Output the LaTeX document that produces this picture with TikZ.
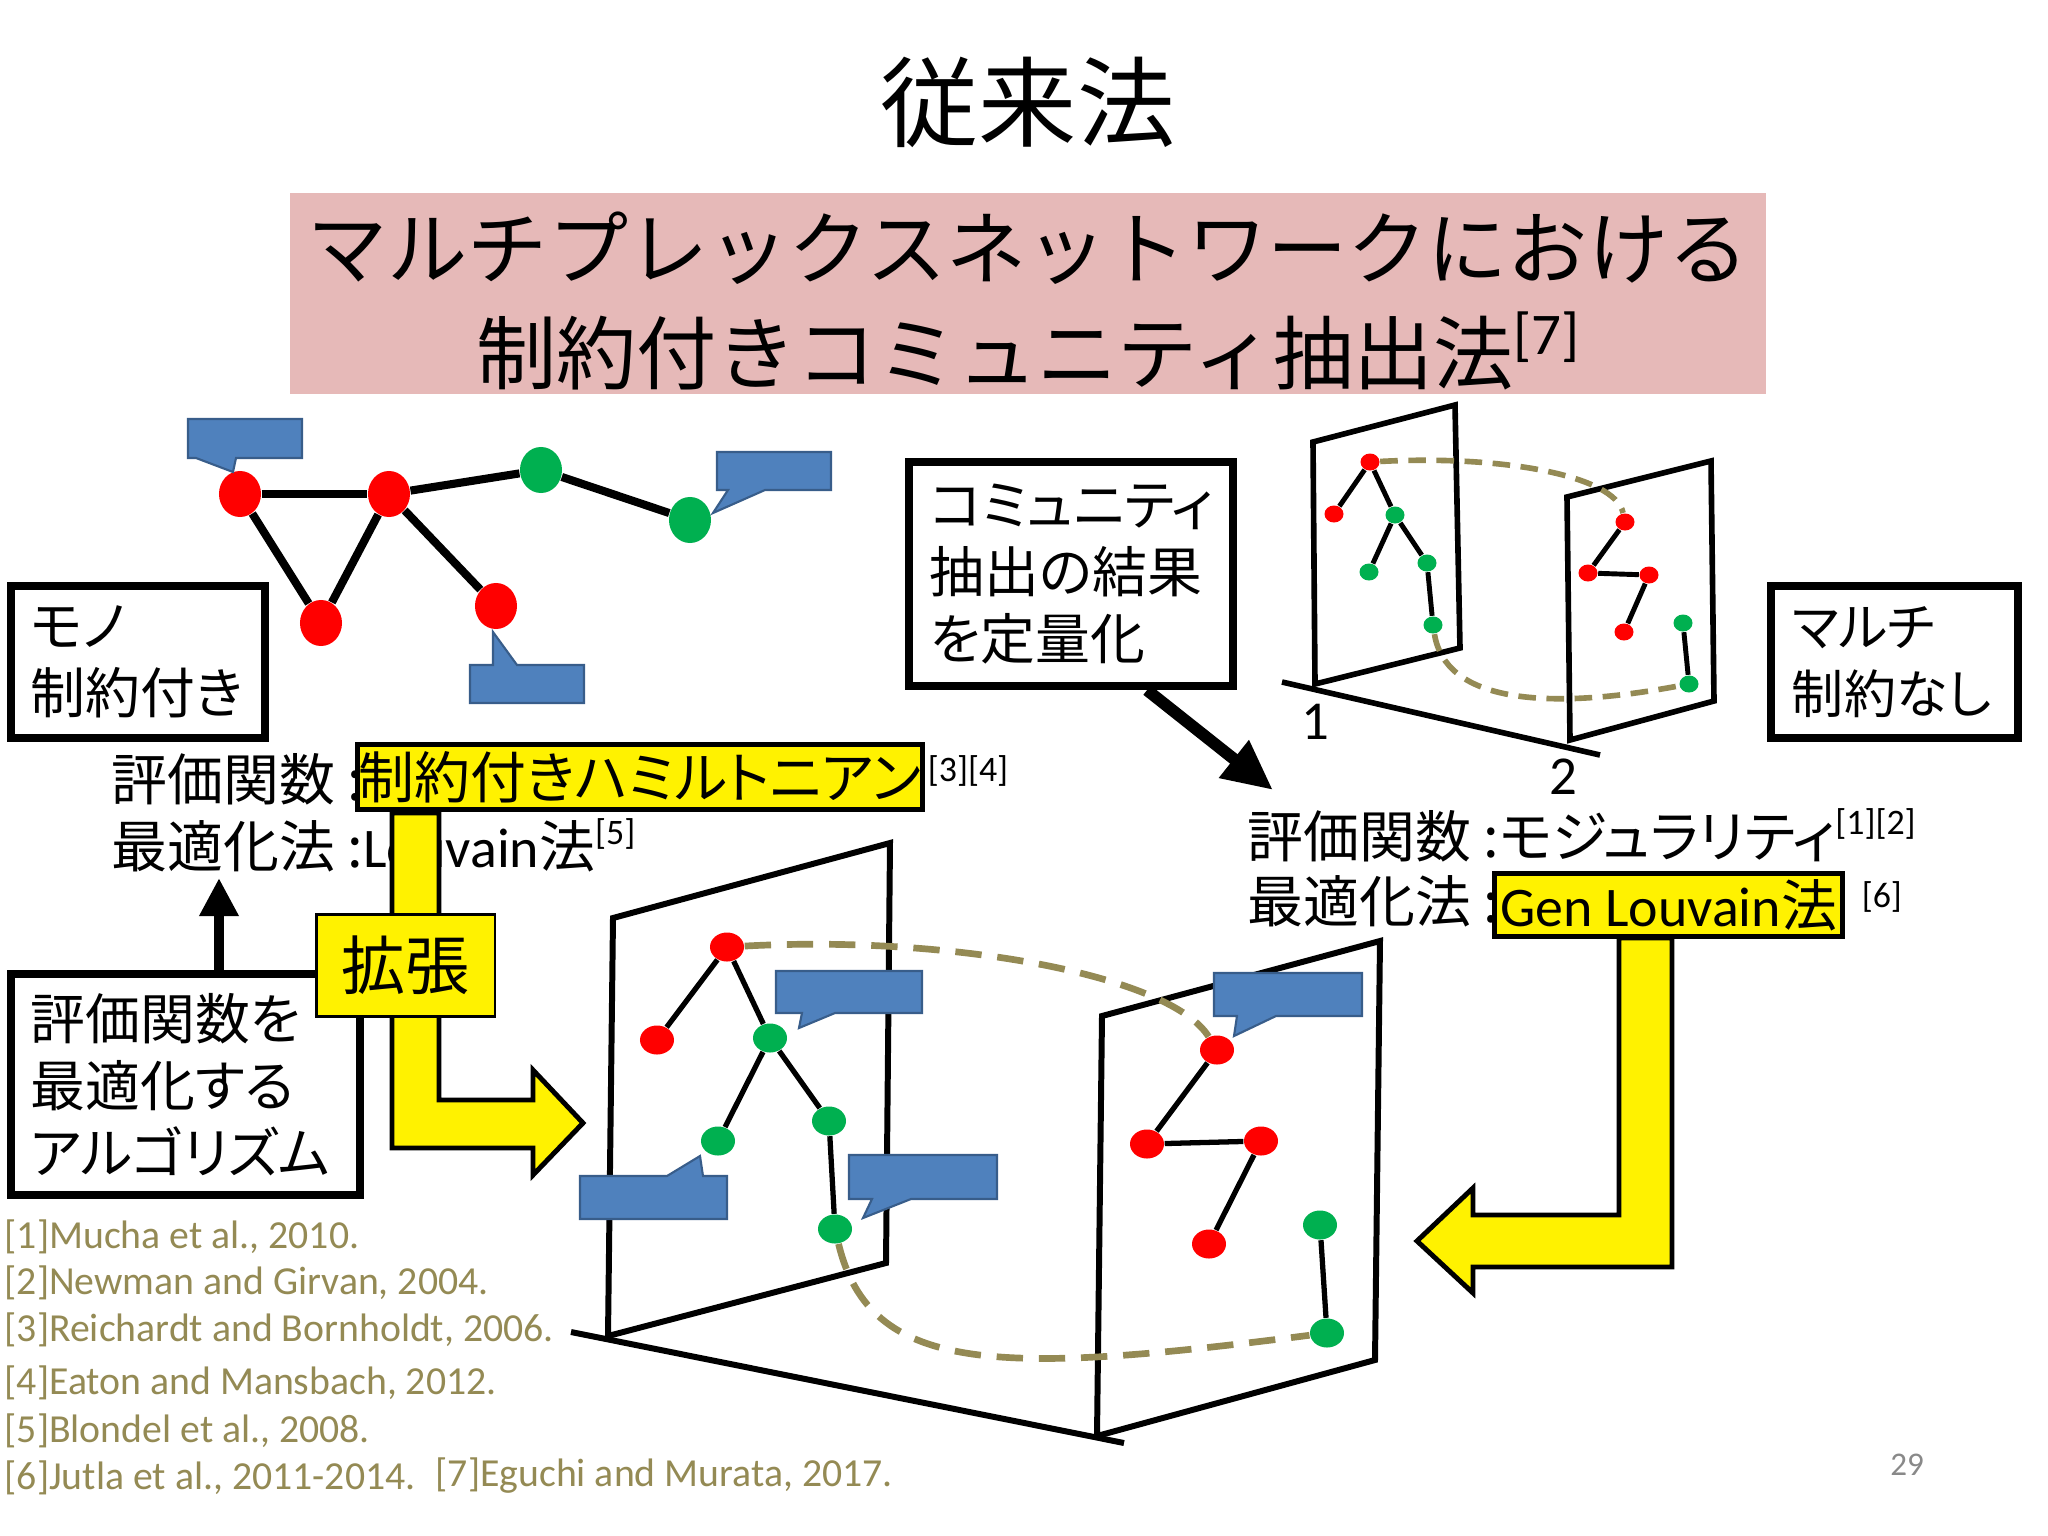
\documentclass[tikz,border=0pt]{standalone}
\usepackage{fontspec}
\setmainfont{Carlito}
\newfontfamily\jp{Noto Sans CJK JP}
\newfontfamily\jpp[RawFeature=+palt]{Noto Sans CJK JP}
\usetikzlibrary{arrows.meta,positioning,shapes.geometric}

\definecolor{bandpink}{RGB}{230,185,184}
\definecolor{bubblefill}{RGB}{79,129,189}
\definecolor{bubbleedge}{RGB}{56,93,138}
\definecolor{tanline}{RGB}{148,138,84}
\definecolor{vgreen}{RGB}{0,176,80}
\definecolor{pagegray}{RGB}{137,137,137}

\newcommand{\refmark}[3]{\raisebox{#2}{\fontsize{#1}{#1}\selectfont\rmfamily\mdseries #3}}

\begin{document}
\begin{tikzpicture}[x=0.01cm,y=-0.01cm,
  box/.style={draw,line width=2.3pt,inner sep=0pt,align=left,
    font=\jpp\fontsize{15.6pt}{19pt}\selectfont},
  hilite/.style={draw,fill=yellow,inner sep=0pt},
  evaltext/.style={inner sep=0pt,font=\jp\fontsize{15.9pt}{19pt}\selectfont},
  refline/.style={inner sep=0pt,anchor=west,text=tanline,font=\fontsize{11.3pt}{13pt}\selectfont},
  plane/.style={line width=1.7pt,line join=miter},
  bubble/.style={fill=bubblefill,draw=bubbleedge,line width=0.6pt,line join=miter},
  tandash/.style={draw=tanline,line width=1.9pt,dash pattern=on 7.5pt off 4.5pt},
  vtx/.style={ellipse,inner sep=0pt},
  rv/.style={vtx,fill=red},
  gv/.style={vtx,fill=vgreen},
  monosz/.style={minimum width=0.42cm,minimum height=0.46cm},
  bigsz/.style={minimum width=0.34cm,minimum height=0.29cm},
  smallsz/.style={minimum width=0.19cm,minimum height=0.17cm},
  yarrow/.style={fill=yellow,draw=black,line width=1.4pt,line join=miter}]
\useasboundingbox (0,0) rectangle (2048,1536);
\fill[white] (0,0) rectangle (2048,1536);

% Title and band
\node[inner sep=0pt,anchor=base,font=\jp\fontsize{27.9pt}{30pt}\selectfont] (title) at (1028,139) {従来法};
\node[fill=bandpink,minimum width=14.76cm,minimum height=2.01cm] (band) at (1028,293.5) {};
\node[inner sep=0pt,anchor=base,font=\jp\fontsize{22.8pt}{26pt}\selectfont] (bandone) at (1028,278) {マルチプレックスネットワークにおける};
\node[inner sep=0pt,anchor=base,font=\jp\fontsize{22.8pt}{26pt}\selectfont] (bandtwo) at (1028,383) {制約付きコミュニティ抽出法\refmark{16.8pt}{8pt}{[7]}};

% Mono network
\node[rv,monosz] (ma) at (240,494) {};
\node[rv,monosz] (mb) at (389,494) {};
\node[gv,monosz] (mc) at (541,470) {};
\node[gv,monosz] (md) at (690,520) {};
\node[rv,monosz] (me) at (321,623) {};
\node[rv,monosz] (mf) at (496,606) {};
\foreach \a/\b in {ma/mb,ma/me,me/mb,mb/mc,mc/md,mb/mf}
  \draw[line width=2.3pt] (\a) -- (\b);
\draw[bubble] (188,419) -- (302,419) -- (302,458) -- (236,458) -- (233,472) -- (196,458) -- (188,458) -- cycle;
\draw[bubble] (717,452) -- (831,452) -- (831,490) -- (765,490) -- (713,513) -- (728,490) -- (717,490) -- cycle;
\draw[bubble] (470,665) -- (493,665) -- (493,632) -- (517,665) -- (584,665) -- (584,703) -- (470,703) -- cycle;

% Boxes
\node[box,minimum width=2.54cm,minimum height=1.52cm,text width=2.14cm] (monobox) at (138,662) {モノ\\制約付き};
\node[box,minimum width=3.49cm,minimum height=2.21cm,text width=3.09cm] (algobox) at (185.5,1084.5) {評価関数を\\最適化する\\アルゴリズム};
\node[box,minimum width=3.24cm,minimum height=2.24cm,text width=2.82cm] (quantbox) at (1071,574) {コミュニティ\\抽出の結果\\を定量化};
\node[box,minimum width=2.47cm,minimum height=1.52cm,text width=2.05cm,
  font=\jpp\fontsize{14.8pt}{19pt}\selectfont] (multibox) at (1894.5,662) {マルチ\\制約なし};

% Left evaluation
\node[evaltext,anchor=base west] (lfunc) at (111,800) {評価関数 :};
\node[hilite,line width=1.4pt,minimum width=5.65cm,minimum height=0.65cm,
  font=\jpp\fontsize{15.9pt}{19pt}\selectfont] (hamil) at (640,777) {制約付きハミルトニアン};
\node[inner sep=0pt,anchor=west,font=\fontsize{10.2pt}{12pt}\selectfont] (refcd) at ([xshift=0.02cm,yshift=0.06cm]hamil.east) {[3][4]};
\node[evaltext,anchor=base west] (lopt) at (111,867) {最適化法 :{\rmfamily Louvain}法\refmark{10.2pt}{6.3pt}{[5]}};

% Right evaluation
\node[evaltext,anchor=base west,font=\jpp\fontsize{15.9pt}{19pt}\selectfont] (rfunc) at (1247,857) {評価関数 :モジュラリティ\refmark{10.2pt}{6.3pt}{[1][2]}};
\node[evaltext,anchor=base west] (ropt) at (1247,922) {最適化法 :};
\node[hilite,line width=1.4pt,minimum width=3.48cm,minimum height=0.63cm,
  font=\fontsize{15.9pt}{19pt}\selectfont] (genbox) at (1668.5,905) {Gen Louvain{\jp 法}};
\node[inner sep=0pt,font=\fontsize{10.2pt}{12pt}\selectfont,right=0.16cm of genbox,yshift=0.08cm] (reff) {[6]};

% Black arrows
\coordinate (uptip) at (219,878);
\draw[line width=3.1pt,-{Triangle[length=0.38cm,width=0.37cm]}] (algobox.north -| uptip) -- (uptip);
\coordinate (quanttip) at (1273,790);
\draw[line width=3.4pt,-{Triangle[length=0.5cm,width=0.45cm]}] ([xshift=0.76cm]quantbox.south) -- (quanttip);

% Yellow arrows
\draw[yarrow] (392,813) -- (439,813) -- (439,1100) -- (533,1100) -- (533,1070) -- (583,1123)
  -- (533,1175) -- (533,1148) -- (392,1148) -- cycle;
\draw[yarrow] (1619,938) -- (1672,938) -- (1672,1267) -- (1473,1267) -- (1473,1293) -- (1417,1241)
  -- (1473,1188) -- (1473,1215) -- (1619,1215) -- cycle;
\node[hilite,line width=0.6pt,minimum width=1.78cm,minimum height=1.02cm,
  font=\jp\fontsize{18.2pt}{20pt}\selectfont] (expand) at (405.5,965.5) {拡張};

% Small multiplex
\draw[plane,line width=1.6pt] (1313,442) -- (1455,405) -- (1460,648) -- (1315,684) -- cycle;
\draw[plane,line width=1.6pt] (1567,497) -- (1711,461) -- (1714,701) -- (1570,740) -- cycle;
\draw[plane,line width=1.6pt] (1282,682) -- (1600,755);
\node[font=\fontsize{15.6pt}{18pt}\selectfont,inner sep=0pt] (layerone) at (1315,722) {1};
\node[font=\fontsize{15.6pt}{18pt}\selectfont,inner sep=0pt] (layertwo) at (1563,777) {2};
\node[rv,smallsz] (sr1) at (1370,462) {};
\node[rv,smallsz] (sr2) at (1334,514) {};
\node[gv,smallsz] (sg1) at (1395,515) {};
\node[gv,smallsz] (sg2) at (1369,572) {};
\node[gv,smallsz] (sg3) at (1427,563) {};
\node[gv,smallsz] (sg4) at (1433,625) {};
\node[rv,smallsz] (tr1) at (1625,522) {};
\node[rv,smallsz] (tr2) at (1588,573) {};
\node[rv,smallsz] (tr3) at (1649,575) {};
\node[rv,smallsz] (tr4) at (1624,632) {};
\node[gv,smallsz] (tg1) at (1683,623) {};
\node[gv,smallsz] (tg2) at (1689,684) {};
\foreach \a/\b in {sr1/sr2,sr1/sg1,sg1/sg2,sg1/sg3,sg3/sg4,tr1/tr2,tr2/tr3,tr3/tr4,tg1/tg2}
  \draw[line width=1.4pt] (\a) -- (\b);
\draw[tandash,line width=1.6pt,dash pattern=on 5pt off 3pt] (sr1) .. controls (1500,455) and (1615,475) .. (tr1);
\draw[tandash,line width=1.6pt,dash pattern=on 5pt off 3pt] (sg4) .. controls (1445,700) and (1540,712) .. (tg2);

% Big multiplex
\draw[plane] (613,918) -- (890,843) -- (886,1263) -- (608,1336) -- cycle;
\draw[plane] (1102,1016) -- (1380,941) -- (1375,1360) -- (1097,1436) -- cycle;
\draw[plane] (571,1332) -- (1124,1443);
\node[rv,bigsz] (pr1) at (727,947) {};
\node[rv,bigsz] (pr2) at (657,1040) {};
\node[gv,bigsz] (pg1) at (770,1038) {};
\node[gv,bigsz] (pg2) at (718,1141) {};
\node[gv,bigsz] (pg3) at (829,1121) {};
\node[gv,bigsz] (pg4) at (835,1229) {};
\node[rv,bigsz] (qr1) at (1217,1050) {};
\node[rv,bigsz] (qr2) at (1147,1144) {};
\node[rv,bigsz] (qr3) at (1261,1141) {};
\node[rv,bigsz] (qr4) at (1209,1244) {};
\node[gv,bigsz] (qg1) at (1320,1225) {};
\node[gv,bigsz] (qg2) at (1327,1333) {};
\foreach \a/\b in {pr1/pr2,pr1/pg1,pg1/pg2,pg1/pg3,pg3/pg4,qr1/qr2,qr2/qr3,qr3/qr4,qg1/qg2}
  \draw[line width=1.5pt] (\a) -- (\b);
\draw[tandash] (pr1) .. controls (950,935) and (1170,975) .. (qr1);
\draw[tandash] (pg4) .. controls (870,1375) and (1000,1375) .. (qg2);
\draw[bubble] (776,971) -- (922,971) -- (922,1013) -- (835,1013) -- (799,1028) -- (802,1013) -- (776,1013) -- cycle;
\draw[bubble] (580,1176) -- (667,1176) -- (700,1156) -- (703,1176) -- (727,1176) -- (727,1219) -- (580,1219) -- cycle;
\draw[bubble] (849,1155) -- (997,1155) -- (997,1199) -- (911,1199) -- (863,1218) -- (872,1199) -- (849,1199) -- cycle;
\draw[bubble] (1214,973) -- (1362,973) -- (1362,1016) -- (1276,1016) -- (1234,1036) -- (1237,1016) -- (1214,1016) -- cycle;

% References
\node[refline] (refa) at (4,1237) {[1]Mucha et al., 2010.};
\node[refline] (refb) at (4,1283) {[2]Newman and Girvan, 2004.};
\node[refline] (refc) at (4,1330) {[3]Reichardt and Bornholdt, 2006.};
\node[refline] (refd) at (4,1383) {[4]Eaton and Mansbach, 2012.};
\node[refline] (refe) at (4,1431) {[5]Blondel et al., 2008.};
\node[refline] (reff6) at (4,1478) {[6]Jutla et al., 2011-2014.};
\node[refline] (refg) at (435,1476) {[7]Eguchi and Murata, 2017.};
\node[text=pagegray,inner sep=0pt,font=\fontsize{9.4pt}{11pt}\selectfont] (pageno) at (1907,1465) {29};
\end{tikzpicture}
\end{document}
